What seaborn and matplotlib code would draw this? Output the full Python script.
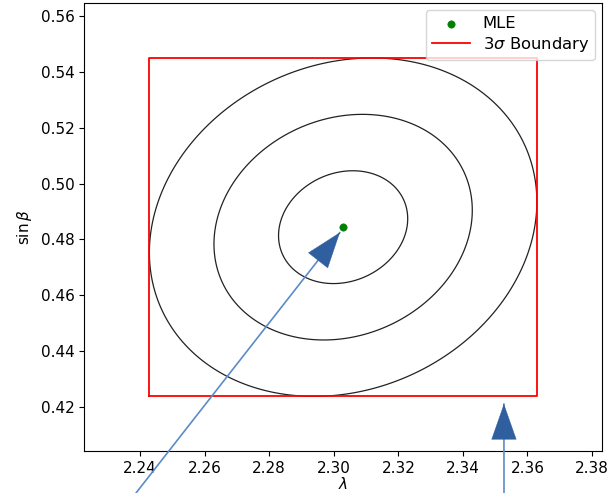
import numpy as np
import pandas as pd
import matplotlib
matplotlib.use("Agg")
import matplotlib.pyplot as plt
import seaborn as sns

# ---- data ----
mle_lambda = [2.3029]
mle_sinb = [0.4844]
sigma_lambda = 0.0200
sigma_sinb = 0.0202
rho = 0.15
sigma_levels = [1, 2, 3]
arrow_tips_lambda = [2.3019, 2.3527]
arrow_tips_sinb = [0.4825, 0.4211]
arrow_tails_px = [(136, 0), (504, 0)]   # tail positions at the figure bottom (pixels)
x_ticks = [2.24, 2.26, 2.28, 2.30, 2.32, 2.34, 2.36, 2.38]
y_ticks = [0.42, 0.44, 0.46, 0.48, 0.50, 0.52, 0.54, 0.56]
x_range = (2.2227, 2.3831)
y_range = (0.4042, 0.5647)

plt.rcParams["font.family"] = ["DejaVu Sans"]
plt.rcParams["font.size"] = 11

fig = plt.figure(figsize=(6.10, 4.93), dpi=100)
ax = fig.add_axes([0.138, 0.085, 0.849, 0.909])

mu = np.array([mle_lambda[0], mle_sinb[0]])

# confidence contours (Mahalanobis distance 1, 2, 3)
gx = np.linspace(*x_range, 600)
gy = np.linspace(*y_range, 600)
X, Y = np.meshgrid(gx, gy)
zx = (X - mu[0]) / sigma_lambda
zy = (Y - mu[1]) / sigma_sinb
D = np.sqrt((zx**2 - 2 * rho * zx * zy + zy**2) / (1 - rho**2))
ax.contour(X, Y, D, levels=sigma_levels, colors="#222222", linewidths=0.9)

# 3 sigma boundary box
lo_l, hi_l = mu[0] - 3 * sigma_lambda, mu[0] + 3 * sigma_lambda
lo_s, hi_s = mu[1] - 3 * sigma_sinb, mu[1] + 3 * sigma_sinb
box = pd.DataFrame({
    "lam": [lo_l, hi_l, hi_l, lo_l, lo_l],
    "s": [lo_s, lo_s, hi_s, hi_s, lo_s],
})
sns.lineplot(data=box, x="lam", y="s", sort=False, estimator=None, color="red",
             linewidth=1.3, ax=ax, label="3$\\sigma$ Boundary", zorder=3)

# MLE point
mle = pd.DataFrame({"lam": mle_lambda, "s": mle_sinb})
sns.scatterplot(data=mle, x="lam", y="s", color="green", s=28, edgecolor="green",
                ax=ax, label="MLE", zorder=5)

ax.set_xlim(*x_range)
ax.set_ylim(*y_range)
ax.set_xticks(x_ticks)
ax.set_yticks(y_ticks)
ax.set_xticklabels([f"{v:.2f}" for v in x_ticks])
ax.set_yticklabels([f"{v:.2f}" for v in y_ticks])
ax.set_xlabel("$\\lambda$", fontsize=11, labelpad=0)
ax.set_ylabel("$\\sin\\beta$", fontsize=11, labelpad=5)
ax.tick_params(labelsize=11)

handles, labels = ax.get_legend_handles_labels()
order = [labels.index("MLE"), labels.index("3$\\sigma$ Boundary")]
ax.legend([handles[i] for i in order], [labels[i] for i in order],
          loc="upper right", fontsize=11.8, labelspacing=0.25,
          handlelength=2.3, borderaxespad=0.45, borderpad=0.35)

# arrows (extend past the axes to the figure bottom)
head_len_px = 35
for (tx, ty), lx, ly in zip(arrow_tails_px, arrow_tips_lambda, arrow_tips_sinb):
    # shaft (lighter blue)
    ax.annotate("", xy=(lx, ly), xycoords="data",
                xytext=(tx, ty), textcoords="figure pixels",
                annotation_clip=False,
                arrowprops=dict(arrowstyle="-", shrinkA=0, shrinkB=0,
                                linewidth=1.2, color="#5b8bc9"),
                zorder=6)
    # head (dark blue, no outline)
    px, py = ax.transData.transform((lx, ly))
    d = np.array([tx - px, ty - py], dtype=float)
    d /= np.hypot(*d)
    bx, by = px + d[0] * head_len_px, py + d[1] * head_len_px
    ax.annotate("", xy=(lx, ly), xycoords="data",
                xytext=(bx, by), textcoords="figure pixels",
                annotation_clip=False,
                arrowprops=dict(arrowstyle="-|>,head_length=25,head_width=8.8",
                                mutation_scale=1, shrinkA=0, shrinkB=0,
                                linewidth=0.3, edgecolor="#2f5f9f",
                                facecolor="#2f5f9f"),
                zorder=7)

fig.savefig("out.png", dpi=100)
